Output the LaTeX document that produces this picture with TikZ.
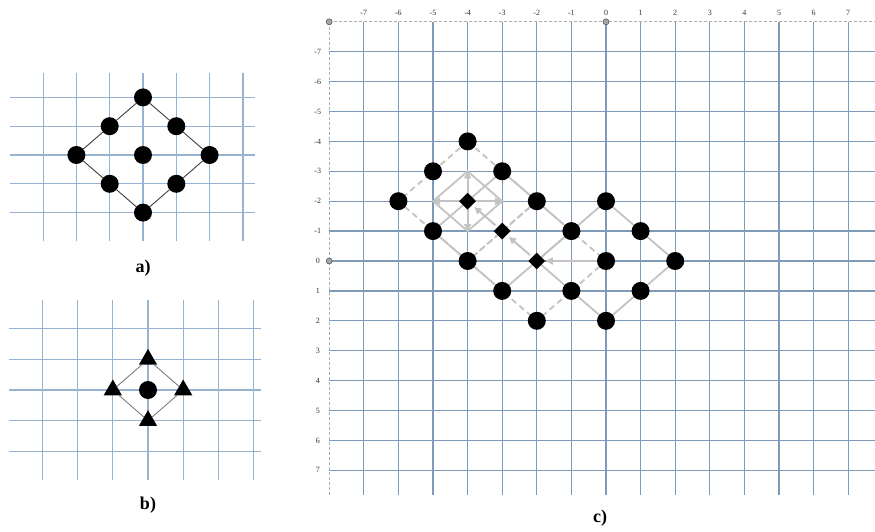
\documentclass[tikz,border=0pt]{standalone}
\usepackage{fontspec}
\setmainfont{Liberation Serif}
\usetikzlibrary{shapes.geometric,arrows.meta}
\definecolor{gridc}{RGB}{125,155,185}
\definecolor{grida}{RGB}{150,180,210}
\definecolor{pathg}{RGB}{195,195,195}
\definecolor{axisg}{RGB}{175,175,175}
\begin{document}
\begin{tikzpicture}[x=1pt,y=1pt,
  dot/.style={circle,fill=black,inner sep=0pt,minimum size=18pt},
  cdot/.style={circle,fill=black,inner sep=0pt,minimum size=18pt},
  dmark/.style={diamond,fill=black,inner sep=0pt,minimum width=17pt,minimum height=17pt},
  tri/.style={regular polygon,regular polygon sides=3,fill=black,inner sep=0pt,minimum size=21pt},
  gridab/.style={draw=grida,line width=1.2pt},
  gridcc/.style={draw=gridc,line width=1.3pt},
  axisdash/.style={draw=axisg,line width=0.9pt,dash pattern=on 3pt off 2pt},
  outline/.style={line width=0.9pt,draw=black!75},
  soutline/.style={line width=0.8pt,draw=black!55},
  solidp/.style={draw=pathg,line width=1.8pt},
  dashp/.style={draw=pathg,line width=1.8pt,dash pattern=on 6pt off 4pt},
  movearr/.style={draw=pathg,line width=2pt,-{Triangle[length=7pt,width=7pt]},shorten >=9pt,shorten <=9pt},
  outarr/.style={draw=pathg,line width=1.8pt,-{Triangle[length=7pt,width=7pt]},shorten <=8pt},
  lbl/.style={font=\fontsize{18}{20}\selectfont\bfseries},
  axlbl/.style={font=\fontsize{8}{9}\selectfont,text=black!80,inner sep=0pt},
  origin/.style={circle,draw=black!65,fill=black!35,line width=0.6pt,inner sep=0pt,minimum size=6pt}]
\useasboundingbox (0,0) rectangle (875,-532);
\fill[white] (0,0) rectangle (875,-532);

% ---------- panel a ----------
\begin{scope}[xshift=143pt,yshift=-155pt,x=33.3pt,y=-28.8pt]
  \foreach \i in {-3,...,3} \draw[gridab] (\i,-2.85) -- (\i,3.0);
  \foreach \j in {-2,...,2} \draw[gridab] (-4.0,\j) -- (3.35,\j);
  \node[dot] (aT)  at (0,-2) {};
  \node[dot] (aNW) at (-1,-1) {};
  \node[dot] (aNE) at (1,-1) {};
  \node[dot] (aW)  at (-2,0) {};
  \node[dot] (aC)  at (0,0) {};
  \node[dot] (aE)  at (2,0) {};
  \node[dot] (aSW) at (-1,1) {};
  \node[dot] (aSE) at (1,1) {};
  \node[dot] (aB)  at (0,2) {};
  \draw[outline] (aT) -- (aNE) -- (aE) -- (aSE) -- (aB) -- (aSW) -- (aW) -- (aNW) -- (aT);
  \node[lbl] (la) at (0,3.92) {a)};
\end{scope}

% ---------- panel b ----------
\begin{scope}[xshift=148pt,yshift=-390pt,x=35.2pt,y=-30.6pt]
  \foreach \i in {-3,...,3} \draw[gridab] (\i,-2.95) -- (\i,2.95);
  \foreach \j in {-2,...,2} \draw[gridab] (-3.95,\j) -- (3.2,\j);
  \node[tri] (bT) at (0,-1) {};
  \node[tri] (bL) at (-1,0) {};
  \node[tri] (bR) at (1,0) {};
  \node[tri] (bB) at (0,1) {};
  \node[dot] (bC) at (0,0) {};
  \draw[soutline] (bT) -- (bR) -- (bB) -- (bL) -- (bT);
  \node[lbl] (lb) at (0,3.76) {b)};
\end{scope}

% ---------- panel c ----------
\begin{scope}[xshift=606pt,yshift=-261pt,x=34.6pt,y=-29.9pt]
  \foreach \i in {-7,...,7} \draw[gridcc] (\i,-8) -- (\i,7.83);
  \foreach \j in {-7,...,7} \draw[gridcc] (-8,\j) -- (7.8,\j);
  \draw[axisdash] (-8,-8) -- (7.8,-8);
  \draw[axisdash] (-8,-8) -- (-8,7.83);
  \foreach \i in {-7,...,7} \node[axlbl] at (\i,-8.3) {\i};
  \foreach \j in {-7,...,7} \node[axlbl] at (-8.33,\j) {\j};
  \node[origin] (o1) at (-8,-8) {};
  \node[origin] (o2) at (0,-8) {};
  \node[origin] (o3) at (-8,0) {};

  % points
  \coordinate (A) at (-4,-4);
  \coordinate (B) at (-5,-3);
  \coordinate (C) at (-3,-3);
  \coordinate (D) at (-6,-2);
  \coordinate (E) at (-2,-2);
  \coordinate (F) at (0,-2);
  \coordinate (G) at (-5,-1);
  \coordinate (H) at (-1,-1);
  \coordinate (I) at (1,-1);
  \coordinate (J) at (-4,0);
  \coordinate (K) at (0,0);
  \coordinate (L) at (2,0);
  \coordinate (M) at (-3,1);
  \coordinate (N) at (-1,1);
  \coordinate (O) at (1,1);
  \coordinate (P) at (-2,2);
  \coordinate (Q) at (0,2);
  \coordinate (R1) at (-4,-2);
  \coordinate (R2) at (-3,-1);
  \coordinate (R3) at (-2,0);
  \coordinate (S1) at (-4,-3);
  \coordinate (S2) at (-5,-2);
  \coordinate (S3) at (-3,-2);
  \coordinate (S4) at (-4,-1);

  % shapes
  \draw[solidp] (F) -- (L) -- (Q) -- (R3) -- cycle;
  \draw[dashp] (E) -- (K) -- (P) -- (J) -- cycle;
  \draw[solidp] (C) -- (H) -- (M) -- (G) -- cycle;
  \draw[dashp] (A) -- (E) -- (J) -- (D) -- cycle;
  \draw[solidp] (S1) -- (S3) -- (S4) -- (S2) -- cycle;

  % arrows
  \draw[movearr] (K) -- (R3);
  \draw[movearr] (R3) -- (R2);
  \draw[movearr] (R2) -- (R1);
  \draw[outarr] (R1) -- (S1);
  \draw[outarr] (R1) -- (S2);
  \draw[outarr] (R1) -- (S3);
  \draw[outarr] (R1) -- (S4);

  % markers
  \foreach \p in {A,B,C,D,E,F,G,H,I,J,K,L,M,N,O,P,Q}
    \node[cdot] at (\p) {};
  \foreach \p in {R1,R2,R3}
    \node[dmark] at (\p) {};

  \node[lbl] (lc) at (-0.17,8.6) {c)};
\end{scope}
\end{tikzpicture}
\end{document}
